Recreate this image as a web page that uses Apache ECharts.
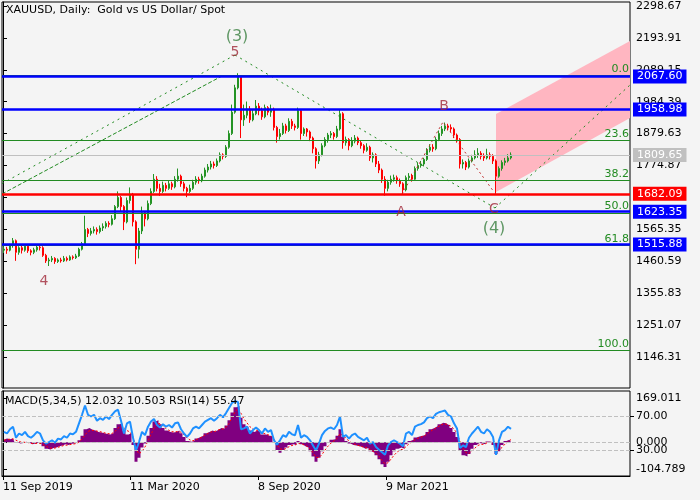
<!DOCTYPE html>
<html><head><meta charset="utf-8">
<script src="https://cdn.jsdelivr.net/npm/echarts@6/dist/echarts.min.js"></script>
<style>html,body{margin:0;padding:0;background:#f4f4f4}#c{width:700px;height:500px}</style>
</head><body><div id="c"></div><script>
// ---- data (3 trading days per candle) ----
// [open, close, low, high]
const candles = [
[1497,1500,1488,1510],[1500,1497,1485,1508],[1497,1512,1493,1518],[1512,1528,1505,1537],[1528,1490,1462,1532],
[1490,1505,1482,1510],[1505,1497,1486,1512],[1497,1510,1492,1516],[1510,1495,1488,1514],[1495,1490,1480,1500],
[1490,1498,1484,1505],[1498,1507,1492,1515],[1507,1505,1496,1514],[1505,1480,1475,1510],[1480,1462,1455,1485],
[1462,1465,1445,1472],[1465,1470,1458,1478],[1470,1460,1452,1474],[1460,1465,1455,1470],[1465,1462,1456,1472],
[1462,1470,1458,1478],[1470,1465,1460,1476],[1465,1475,1462,1480],[1475,1472,1466,1480],[1472,1478,1468,1485],
[1478,1500,1475,1505],[1500,1518,1496,1524],[1518,1565,1515,1610],[1565,1552,1540,1570],[1552,1560,1545,1570],
[1560,1565,1552,1575],[1565,1558,1548,1572],[1558,1570,1552,1578],[1570,1575,1560,1585],[1575,1585,1568,1592],
[1585,1582,1572,1592],[1582,1600,1578,1612],[1600,1640,1596,1645],[1640,1670,1635,1690],[1670,1640,1625,1675],
[1640,1590,1563,1645],[1590,1660,1585,1670],[1660,1680,1650,1703],[1680,1590,1575,1685],[1590,1500,1451,1595],
[1500,1560,1470,1570],[1560,1620,1550,1640],[1620,1600,1575,1625],[1600,1650,1595,1660],[1650,1690,1645,1700],
[1690,1730,1685,1747],[1730,1700,1690,1740],[1700,1690,1675,1715],[1690,1710,1685,1722],[1710,1700,1690,1718],
[1700,1715,1695,1725],[1715,1705,1695,1722],[1705,1730,1700,1740],[1730,1740,1722,1765],[1740,1715,1705,1745],
[1715,1700,1690,1722],[1700,1690,1671,1705],[1690,1700,1685,1712],[1700,1720,1695,1728],[1720,1730,1712,1740],
[1730,1725,1715,1738],[1725,1740,1720,1748],[1740,1760,1735,1768],[1760,1770,1752,1780],[1770,1780,1762,1790],
[1780,1775,1765,1788],[1775,1790,1770,1798],[1790,1810,1785,1818],[1810,1805,1795,1815],[1805,1835,1800,1842],
[1835,1880,1830,1890],[1880,1950,1875,1975],[1950,2030,1945,2040],[2030,2065,2025,2078],[2065,1925,1865,2070],
[1925,1940,1905,1975],[1940,1960,1930,1985],[1960,1925,1915,1970],[1925,1945,1920,1960],[1945,1970,1940,1990],
[1970,1955,1940,1980],[1955,1935,1925,1965],[1935,1965,1930,1975],[1965,1950,1940,1970],[1950,1960,1935,1975],
[1960,1900,1890,1965],[1900,1870,1850,1905],[1870,1880,1860,1895],[1880,1905,1875,1915],[1905,1890,1880,1912],
[1890,1920,1885,1930],[1920,1905,1895,1928],[1905,1900,1890,1912],[1900,1955,1895,1965],[1955,1880,1860,1960],
[1880,1895,1872,1900],[1895,1885,1870,1898],[1885,1865,1855,1890],[1865,1830,1815,1870],[1830,1790,1765,1835],
[1790,1810,1780,1820],[1810,1840,1805,1848],[1840,1860,1835,1868],[1860,1875,1850,1882],[1875,1880,1865,1888],
[1880,1870,1860,1885],[1870,1895,1865,1905],[1895,1945,1890,1959],[1945,1850,1830,1950],[1850,1860,1840,1870],
[1860,1840,1825,1865],[1840,1855,1835,1868],[1855,1865,1848,1875],[1865,1850,1842,1870],[1850,1840,1830,1858],
[1840,1825,1815,1845],[1825,1835,1820,1848],[1835,1800,1790,1840],[1800,1810,1785,1818],[1810,1780,1770,1815],
[1780,1760,1750,1790],[1760,1730,1718,1765],[1730,1700,1676,1740],[1700,1720,1690,1728],[1720,1730,1712,1742],
[1730,1735,1722,1745],[1735,1725,1715,1742],[1725,1715,1705,1732],[1715,1695,1678,1720],[1695,1735,1690,1742],
[1735,1740,1725,1750],[1740,1730,1722,1748],[1730,1765,1728,1772],[1765,1775,1758,1785],[1775,1780,1768,1790],
[1780,1795,1772,1800],[1795,1825,1790,1832],[1825,1835,1818,1845],[1835,1830,1820,1845],[1830,1860,1825,1868],
[1860,1880,1855,1890],[1880,1895,1872,1905],[1895,1905,1888,1916],[1905,1900,1890,1912],[1900,1895,1885,1910],
[1895,1875,1865,1900],[1875,1860,1850,1880],[1860,1780,1765,1865],[1780,1785,1765,1795],[1785,1770,1760,1790],
[1770,1790,1765,1798],[1790,1800,1785,1810],[1800,1810,1795,1825],[1810,1815,1800,1832],[1815,1805,1795,1822],
[1805,1800,1790,1815],[1800,1810,1795,1830],[1810,1805,1795,1818],[1805,1790,1780,1812],[1790,1740,1682,1795],
[1740,1765,1735,1772],[1765,1785,1758,1792],[1785,1790,1775,1800],[1790,1800,1785,1812],[1800,1809.65,1795,1818]
];
const macdMain = [
10,15,12,15,0,-5,-3,2,-2,-8, -5,-2,-5,-15,-25,-28,-22,-20,-15,-12,
-8,-10,-6,-5,-2,8,25,50,55,48, 45,40,38,35,32,30,35,55,70,72,
45,30,35,-10,-75,-60,-20,-5,25,55, 80,85,70,55,45,40,38,40,45,35,
20,5,2,5,15,20,25,35,40,45, 42,48,55,52,65,85,115,135,140,95,
70,60,45,40,45,40,30,30,25,22, 0,-30,-40,-30,-20,-10,-8,-10,5,-8,
-15,-20,-35,-55,-75,-60,-35,-15,0,10, 12,25,50,20,5,-5,-10,-12,-15,-18,
-25,-22,-35,-40,-50,-65,-85,-95,-75,-50, -35,-25,-20,-25,-8,5,10,18,22,25,
28,40,50,55,62,70,75,72,65,55, 40,20,-30,-50,-55,-45,-25,-10,-3,-5,
-8,3,2,-10,-45,-35,-10,5,10,12.032
];
const macdSignal = [
8,11,12,13,8,3,0,0,-1,-4, -5,-4,-4,-8,-15,-21,-23,-22,-19,-16,
-12,-11,-9,-7,-5,1,12,28,42,46, 46,43,41,38,35,33,34,42,55,63,
57,45,40,20,-25,-45,-35,-18,5,30, 55,72,72,63,53,46,41,40,42,39,
30,17,9,6,10,15,20,28,34,40, 41,45,50,51,58,72,95,117,130,112,
90,75,60,50,47,43,36,33,29,25, 12,-10,-25,-28,-24,-17,-12,-11,-3,-5,
-10,-15,-25,-40,-58,-59,-47,-30,-15,-3, 5,15,33,27,15,5,-3,-8,-12,-15,
-20,-21,-28,-34,-42,-54,-70,-83,-79,-65, -50,-38,-29,-27,-17,-6,2,10,16,20,
24,32,41,48,55,62,69,71,68,62, 51,35,3,-24,-40,-43,-34,-22,-12,-8,
-8,-2,0,-5,-25,-30,-20,-7,2,10.503
];
const rsi14 = [
52,50,55,58,45,50,48,52,47,45, 48,52,50,42,38,40,42,39,44,43,
47,45,50,49,52,62,72,83,72,70, 72,65,68,66,70,67,72,76,78,65,
50,62,64,45,30,40,52,48,58,64, 67,60,57,61,58,60,57,62,63,55,
50,46,50,56,58,56,60,64,66,68, 65,68,72,69,74,80,86,88,87,55,
56,58,50,54,57,54,50,56,52,54, 42,37,42,48,46,52,49,48,60,45,
48,46,42,36,30,38,48,53,56,57, 55,60,70,46,48,44,48,50,46,44,
42,45,38,40,34,31,28,25,36,40, 42,40,38,35,50,52,48,58,60,61,
63,68,70,68,73,75,76,77,72,70, 62,56,33,36,34,45,50,54,58,52,
50,55,52,46,25,42,52,54,58,55.47
];
const priceTicks = [2298.67,2193.91,2089.15,1984.39,1879.63,1774.87,1670.11,1565.35,1460.59,1355.83,1251.07,1146.31];
const blueLevels = [2067.60,1958.98,1623.35,1515.88];
const redLevels = [1682.09];
const lastPrice = 1809.65;
const fibPrices = [2070,1857,1725,1619,1512,1168];
const fibNames = ['0.0','23.6','38.2','50.0','61.8','100.0'];
const dateTickDays = [0,127,255,383];
const dateTickNames = ['11 Sep 2019','11 Mar 2020','8 Sep 2020','9 Mar 2021'];
const macdTicks = [169.011,0,-104.789];
const rsiTicks = [70,30];
const waveNames = ['(3)','5','4','A','B','C','(4)'];
const wavePoints = [[234,2197],[232,2148],[41,1396],[398,1622],[441,1970],[491,1632],[491,1566]];
const impulseUp = [[-1,1715.6],[232,2137.8]];
const trendLine = [[-1,1681.4],[219,2068.9]];
const impulseDown = [[232,2137.8],[492,1635.5]];
const projection = [[492,1635.5],[627,2039.3]];
const abcPath = [[399,1681],[440,1918],[491,1688]];
const channel = [[493,1944],[627,2184],[627,1931],[493,1688]];
const title = 'XAUUSD, Daily:  Gold vs US Dollar/ Spot';
const subTitle = 'MACD(5,34,5) 12.032 10.503 RSI(14) 55.47';

// ---- chart ----
const DAYS = 3; // trading days per candle
const xOf = i => DAYS * i + 1;
const FONT = 'DejaVu Sans';
const green = '#228b22', up = '#249324', down = '#ff0000';

const candleData = candles.map((c, i) => [xOf(i), c[0], c[1], c[2], c[3]]);
const levelMark = (v, color, width) => ({
  yAxis: v,
  lineStyle: {color, width, type: 'solid'},
  label: {show: true, position: 'end', distance: 3, formatter: v.toFixed(2), color: '#fff',
    backgroundColor: color, padding: [2, 4, 1, 4], fontFamily: FONT, fontSize: 11}
});
const markData = [];
fibPrices.forEach((p, i) => markData.push({
  yAxis: p, lineStyle: {color: green, width: 1, type: 'solid'},
  label: {show: true, position: 'insideEndTop', distance: 1, formatter: fibNames[i], color: green, fontFamily: FONT, fontSize: 11}
}));
markData.push(levelMark(lastPrice, '#c0c0c0', 1));
blueLevels.forEach(v => markData.push(levelMark(v, '#0000ff', 2.6)));
redLevels.forEach(v => markData.push(levelMark(v, '#ff0000', 2.6)));

const lineSeries = (data, color, dash) => ({
  type: 'line', xAxisIndex: 0, yAxisIndex: 0, data, symbol: 'none', silent: true, z: 3,
  lineStyle: {color, width: 1, type: dash}
});

const option = {
  animation: false,
  backgroundColor: '#f4f4f4',
  textStyle: {fontFamily: FONT},
  graphic: [
    {type: 'text', left: 6, top: 5, z: 10, style: {text: title, font: '11px "DejaVu Sans"', fill: '#000'}},
    {type: 'text', left: 5, top: 396, z: 10, style: {text: subTitle, font: '11px "DejaVu Sans"', fill: '#000'}}
  ],
  grid: [
    {left: 2, top: 2, width: 628, height: 386, show: true, borderColor: '#000', borderWidth: 1, backgroundColor: 'transparent'},
    {left: 2, top: 391, width: 628, height: 85, show: true, borderColor: '#000', borderWidth: 1, backgroundColor: 'transparent'}
  ],
  xAxis: [
    {type: 'value', gridIndex: 0, min: -1, max: 627, axisLine: {show: false}, axisTick: {show: false}, axisLabel: {show: false}, splitLine: {show: false}},
    {type: 'value', gridIndex: 1, min: -1, max: 627, splitLine: {show: false},
      axisLine: {show: true, onZero: false, lineStyle: {color: '#000'}},
      axisTick: {show: true, customValues: dateTickDays, length: 4, lineStyle: {color: '#000'}},
      axisLabel: {customValues: dateTickDays, formatter: v => dateTickNames[dateTickDays.indexOf(v)] || '',
        align: 'left', margin: 6, color: '#000', fontFamily: FONT, fontSize: 11}}
  ],
  yAxis: [
    {type: 'value', gridIndex: 0, position: 'right', min: 1044.5, max: 2311.8, splitLine: {show: false},
      axisLine: {show: true, lineStyle: {color: '#000'}},
      axisTick: {show: true, customValues: priceTicks, length: 4, lineStyle: {color: '#000'}},
      axisLabel: {customValues: priceTicks, formatter: v => v.toFixed(2), margin: 6, color: '#000', fontFamily: FONT, fontSize: 11}},
    {type: 'value', gridIndex: 1, position: 'right', min: -130, max: 197.8, splitLine: {show: false},
      axisLine: {show: true, lineStyle: {color: '#000'}},
      axisTick: {show: true, customValues: macdTicks, length: 4, lineStyle: {color: '#000'}},
      axisLabel: {customValues: macdTicks, formatter: v => v.toFixed(3), margin: 6, color: '#000', fontFamily: FONT, fontSize: 11}},
    {type: 'value', gridIndex: 1, position: 'right', min: 0, max: 100, splitLine: {show: false},
      axisLine: {show: false},
      axisTick: {show: true, customValues: rsiTicks, length: 4, lineStyle: {color: '#000'}},
      axisLabel: {customValues: rsiTicks, formatter: v => v.toFixed(2), margin: 6, color: '#000', fontFamily: FONT, fontSize: 11}}
  ],
  series: [
    {type: 'custom', xAxisIndex: 0, yAxisIndex: 0, silent: true, z: 1, data: [channel[0]],
      renderItem: (params, api) => ({type: 'polygon', shape: {points: channel.map(p => api.coord(p))}, style: {fill: '#ffb6c1'}})},
    {type: 'candlestick', xAxisIndex: 0, yAxisIndex: 0, data: candleData, encode: {x: 0, y: [1, 2, 3, 4]},
      barWidth: 2.4, z: 2,
      itemStyle: {color: up, color0: down, borderColor: up, borderColor0: down, borderWidth: 1},
      markLine: {silent: true, symbol: ['none', 'none'], animation: false, data: markData}},
    lineSeries(impulseUp, green, [2, 4]),
    lineSeries(trendLine, green, [4, 2]),
    lineSeries(impulseDown, green, [2, 4]),
    lineSeries(projection, green, [2, 4]),
    lineSeries(abcPath, '#c03030', [2, 3]),
    {type: 'scatter', xAxisIndex: 0, yAxisIndex: 0, symbolSize: 1, silent: true, z: 5,
      itemStyle: {color: 'rgba(0,0,0,0)'},
      data: wavePoints.map((p, i) => ({value: p, label: {show: true, position: 'inside', formatter: waveNames[i],
        fontFamily: FONT, fontSize: waveNames[i][0] === '(' ? 16 : 14,
        color: waveNames[i][0] === '(' ? '#3a8040' : '#a02838'}}))},
    {type: 'line', xAxisIndex: 1, yAxisIndex: 1, symbol: 'none', silent: true, step: 'middle',
      data: macdMain.map((v, i) => [xOf(i), v]), lineStyle: {width: 0, color: '#800080'},
      areaStyle: {color: '#800080', origin: 0, opacity: 1},
      markLine: {silent: true, symbol: ['none', 'none'], label: {show: false},
        lineStyle: {color: '#c0c0c0', type: 'dashed', width: 1}, data: [{yAxis: 0}]}},
    {type: 'line', xAxisIndex: 1, yAxisIndex: 1, symbol: 'none', silent: true,
      data: macdSignal.map((v, i) => [xOf(i), v]), lineStyle: {color: '#ff0000', width: 1, type: [2, 2]}},
    {type: 'line', xAxisIndex: 1, yAxisIndex: 2, symbol: 'none', silent: true, z: 4,
      data: rsi14.map((v, i) => [xOf(i), v]), lineStyle: {color: '#1e90ff', width: 2},
      markLine: {silent: true, symbol: ['none', 'none'], label: {show: false},
        lineStyle: {color: '#c0c0c0', type: 'dashed', width: 1}, data: rsiTicks.map(v => ({yAxis: v}))}}
  ]
};
const chart = echarts.init(document.getElementById('c'));
chart.setOption(option);
</script></body></html>
